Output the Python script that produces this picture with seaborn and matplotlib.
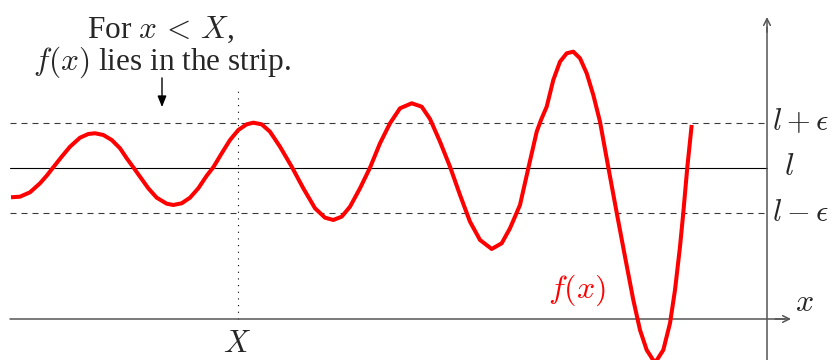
import matplotlib
matplotlib.use("Agg")
import matplotlib.pyplot as plt
import seaborn as sns
import pandas as pd

# Curve f(x), sampled along its visible course
curve_x = [0.02, 0.20, 0.40, 0.60, 0.734, 0.866, 1.034, 1.20, 1.40, 1.566,
           1.70, 1.866, 2.034, 2.20, 2.334, 2.466, 2.60, 2.766, 2.934, 3.134,
           3.266, 3.434, 3.60, 3.766, 3.934, 4.066, 4.234, 4.40, 4.566, 4.734,
           4.866, 5.034, 5.20, 5.40, 5.634, 5.866, 6.10, 6.30, 6.466, 6.634,
           6.80, 7.00, 7.20, 7.40, 7.60, 7.80, 8.034, 8.234, 8.40, 8.60,
           8.80, 9.00, 9.20, 9.40, 9.634, 9.834, 10.00, 10.20, 10.366, 10.534,
           10.62, 10.734, 10.866, 11.00, 11.134, 11.266, 11.40, 11.534, 11.666, 11.80,
           11.966, 12.134, 12.30, 12.466, 12.60, 12.734, 12.90, 13.066, 13.20, 13.30,
           13.40, 13.466, 13.546, 13.634]
curve_y = [2.418, 2.430, 2.517, 2.696, 2.847, 3.014, 3.225, 3.423, 3.602, 3.676,
           3.690, 3.656, 3.557, 3.392, 3.193, 3.014, 2.827, 2.597, 2.410, 2.291,
           2.265, 2.299, 2.410, 2.597, 2.847, 3.014, 3.292, 3.556, 3.755, 3.868,
           3.900, 3.868, 3.721, 3.423, 3.026, 2.597, 2.200, 2.013, 1.967, 2.033,
           2.231, 2.597, 3.006, 3.491, 3.888, 4.186, 4.286, 4.218, 3.974, 3.523,
           3.026, 2.464, 1.933, 1.570, 1.391, 1.504, 1.802, 2.265, 2.994, 3.721,
           3.954, 4.218, 4.749, 5.112, 5.279, 5.311, 5.180, 4.882, 4.451, 3.920,
           3.014, 2.112, 1.238, 0.378, -0.219, -0.616, -0.874, -0.616, -0.085, 0.576,
           1.437, 2.112, 3.014, 3.855]

limit_l = 3.0
epsilon = 0.9
x_threshold = 4.55

band_labels = [r"$l+\epsilon$", r"$l$", r"$l-\epsilon$"]

sns.set_theme(style="white")
plt.rcParams["mathtext.fontset"] = "cm"
plt.rcParams["font.family"] = ["Liberation Serif", "DejaVu Serif"]
plt.rcParams["axes.unicode_minus"] = False

fig = plt.figure(figsize=(8.35, 3.6), dpi=100)
ax = fig.add_axes([0, 0, 1, 1])

x_left, y_axis_x = 0.0, 15.14

# strip around the limit
dash = (0, (5.4, 4.5))
ax.plot([x_left, y_axis_x], [limit_l + epsilon] * 2, color="#3a3a3a", lw=0.8, ls=dash)
ax.plot([x_left, y_axis_x], [limit_l - epsilon] * 2, color="#3a3a3a", lw=0.8, ls=dash)
ax.plot([x_left, y_axis_x], [limit_l] * 2, color="black", lw=0.8)

# dotted marker at X
ax.plot([x_threshold, x_threshold], [0, 4.53], color="black", lw=0.8,
        ls=(0, (1, 5)))

# axes with arrow heads
ax.plot([x_left, 15.5], [0, 0], color="#555555", lw=1.1)
ax.annotate("", xy=(15.62, 0), xytext=(15.3, 0),
            arrowprops=dict(arrowstyle="->", color="#555555", lw=1.1,
                            shrinkA=0, shrinkB=0))
ax.plot([y_axis_x, y_axis_x], [-1.0, 5.8], color="#555555", lw=1.1)
ax.annotate("", xy=(y_axis_x, 6.0), xytext=(y_axis_x, 5.7),
            arrowprops=dict(arrowstyle="->", color="#555555", lw=1.1,
                            shrinkA=0, shrinkB=0))

# the function
df = pd.DataFrame({"x": curve_x, "y": curve_y})
sns.lineplot(data=df, x="x", y="y", ax=ax, color="#ff0000", lw=2.9,
             sort=False, estimator=None, solid_capstyle="butt",
             solid_joinstyle="round")
ax.set_xlim(-0.2, 16.5)
ax.set_ylim(-0.815, 6.338)
ax.axis("off")

fs = 23
for lab, yv in zip(band_labels, [limit_l + epsilon, limit_l, limit_l - epsilon]):
    if lab == r"$l$":
        ax.text(15.59, yv, lab, fontsize=fs, ha="center", va="center")
    else:
        ax.text(15.24, yv, lab, fontsize=fs - 1, ha="left", va="center")

ax.text(15.88, 0.30, r"$x$", fontsize=fs, ha="center", va="center")
ax.text(x_threshold, -0.50, r"$X$", fontsize=fs - 1, ha="center", va="center")
ax.text(11.34, 0.58, r"$f(x)$", fontsize=fs, ha="center", va="center",
        color="#ff0000")

fs_note = 22.5
ax.text(3.02, 5.74, r"For $x\,<\,X$,", fontsize=fs_note, ha="center", va="center")
ax.text(3.04, 5.10, r"$f(x)$ lies in the strip.", fontsize=fs_note,
        ha="center", va="center")
ax.annotate("", xy=(3.04, 4.21), xytext=(3.04, 4.79),
            arrowprops=dict(arrowstyle="-|>,head_length=0.55,head_width=0.22",
                            color="black", lw=1.0, shrinkA=0, shrinkB=0))

fig.savefig("out.png", dpi=100)
